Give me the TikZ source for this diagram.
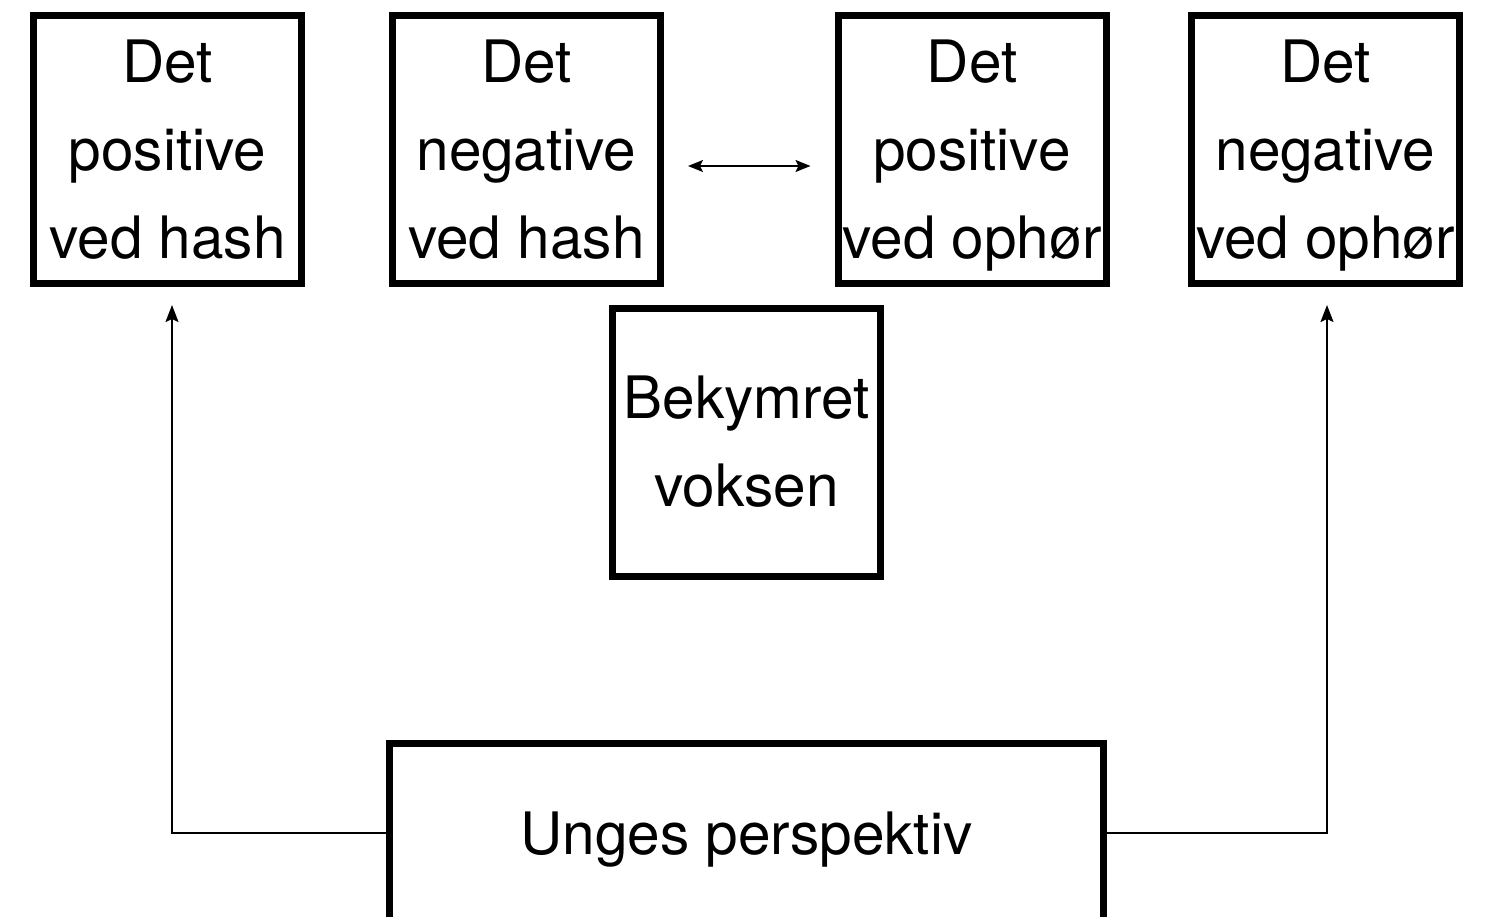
\documentclass[tikz,border=0pt]{standalone}
\usepackage{fontspec}
\setmainfont{TeX Gyre Heros}
\usetikzlibrary{arrows.meta,calc}
\tikzset{
  box/.style={draw=black, line width=7pt, inner sep=0pt, align=center,
    font=\fontsize{58.5pt}{88pt}\selectfont},
  sqbox/.style={box, minimum width=268pt, minimum height=268pt},
  conn/.style={line width=1.8pt, -{Stealth[length=17pt,width=13pt,inset=3pt]}},
  dconn/.style={line width=1.8pt, {Stealth[length=15pt,width=12pt,inset=3pt]}-{Stealth[length=15pt,width=12pt,inset=3pt]}}
}
\begin{document}
\begin{tikzpicture}[x=1pt,y=-1pt]
\useasboundingbox (0,0) rectangle (1486,916);
\begin{scope}
\clip (0,0) rectangle (1486,916);
\node[sqbox] (b1) at (167.5,149.5) {Det\\positive\\ved hash};
\node[sqbox] (b2) at (526.5,149.5) {Det\\negative\\ved hash};
\node[sqbox] (b3) at (972,149.5) {Det\\positive\\\raisebox{0pt}[\height][0pt]{ved ophør}};
\node[sqbox] (b4) at (1325.5,149.5) {Det\\negative\\\raisebox{0pt}[\height][0pt]{ved ophør}};
\node[sqbox] (b5) at (746.5,442) {Bekymret\\voksen};
\node[box, minimum width=714pt, minimum height=180pt, text height=54pt, text depth=12pt] (b6) at (746.5,833) {Unges perspektiv};
\end{scope}
\draw[dconn] ([shift={(24,16.5)}]b2.east) -- ([shift={(-24,16.5)}]b3.west);
\draw[conn] (b6.west) -| ([shift={(4.5,18)}]b1.south);
\draw[conn] (b6.east) -| ([shift={(1.5,18)}]b4.south);
\end{tikzpicture}
\end{document}
